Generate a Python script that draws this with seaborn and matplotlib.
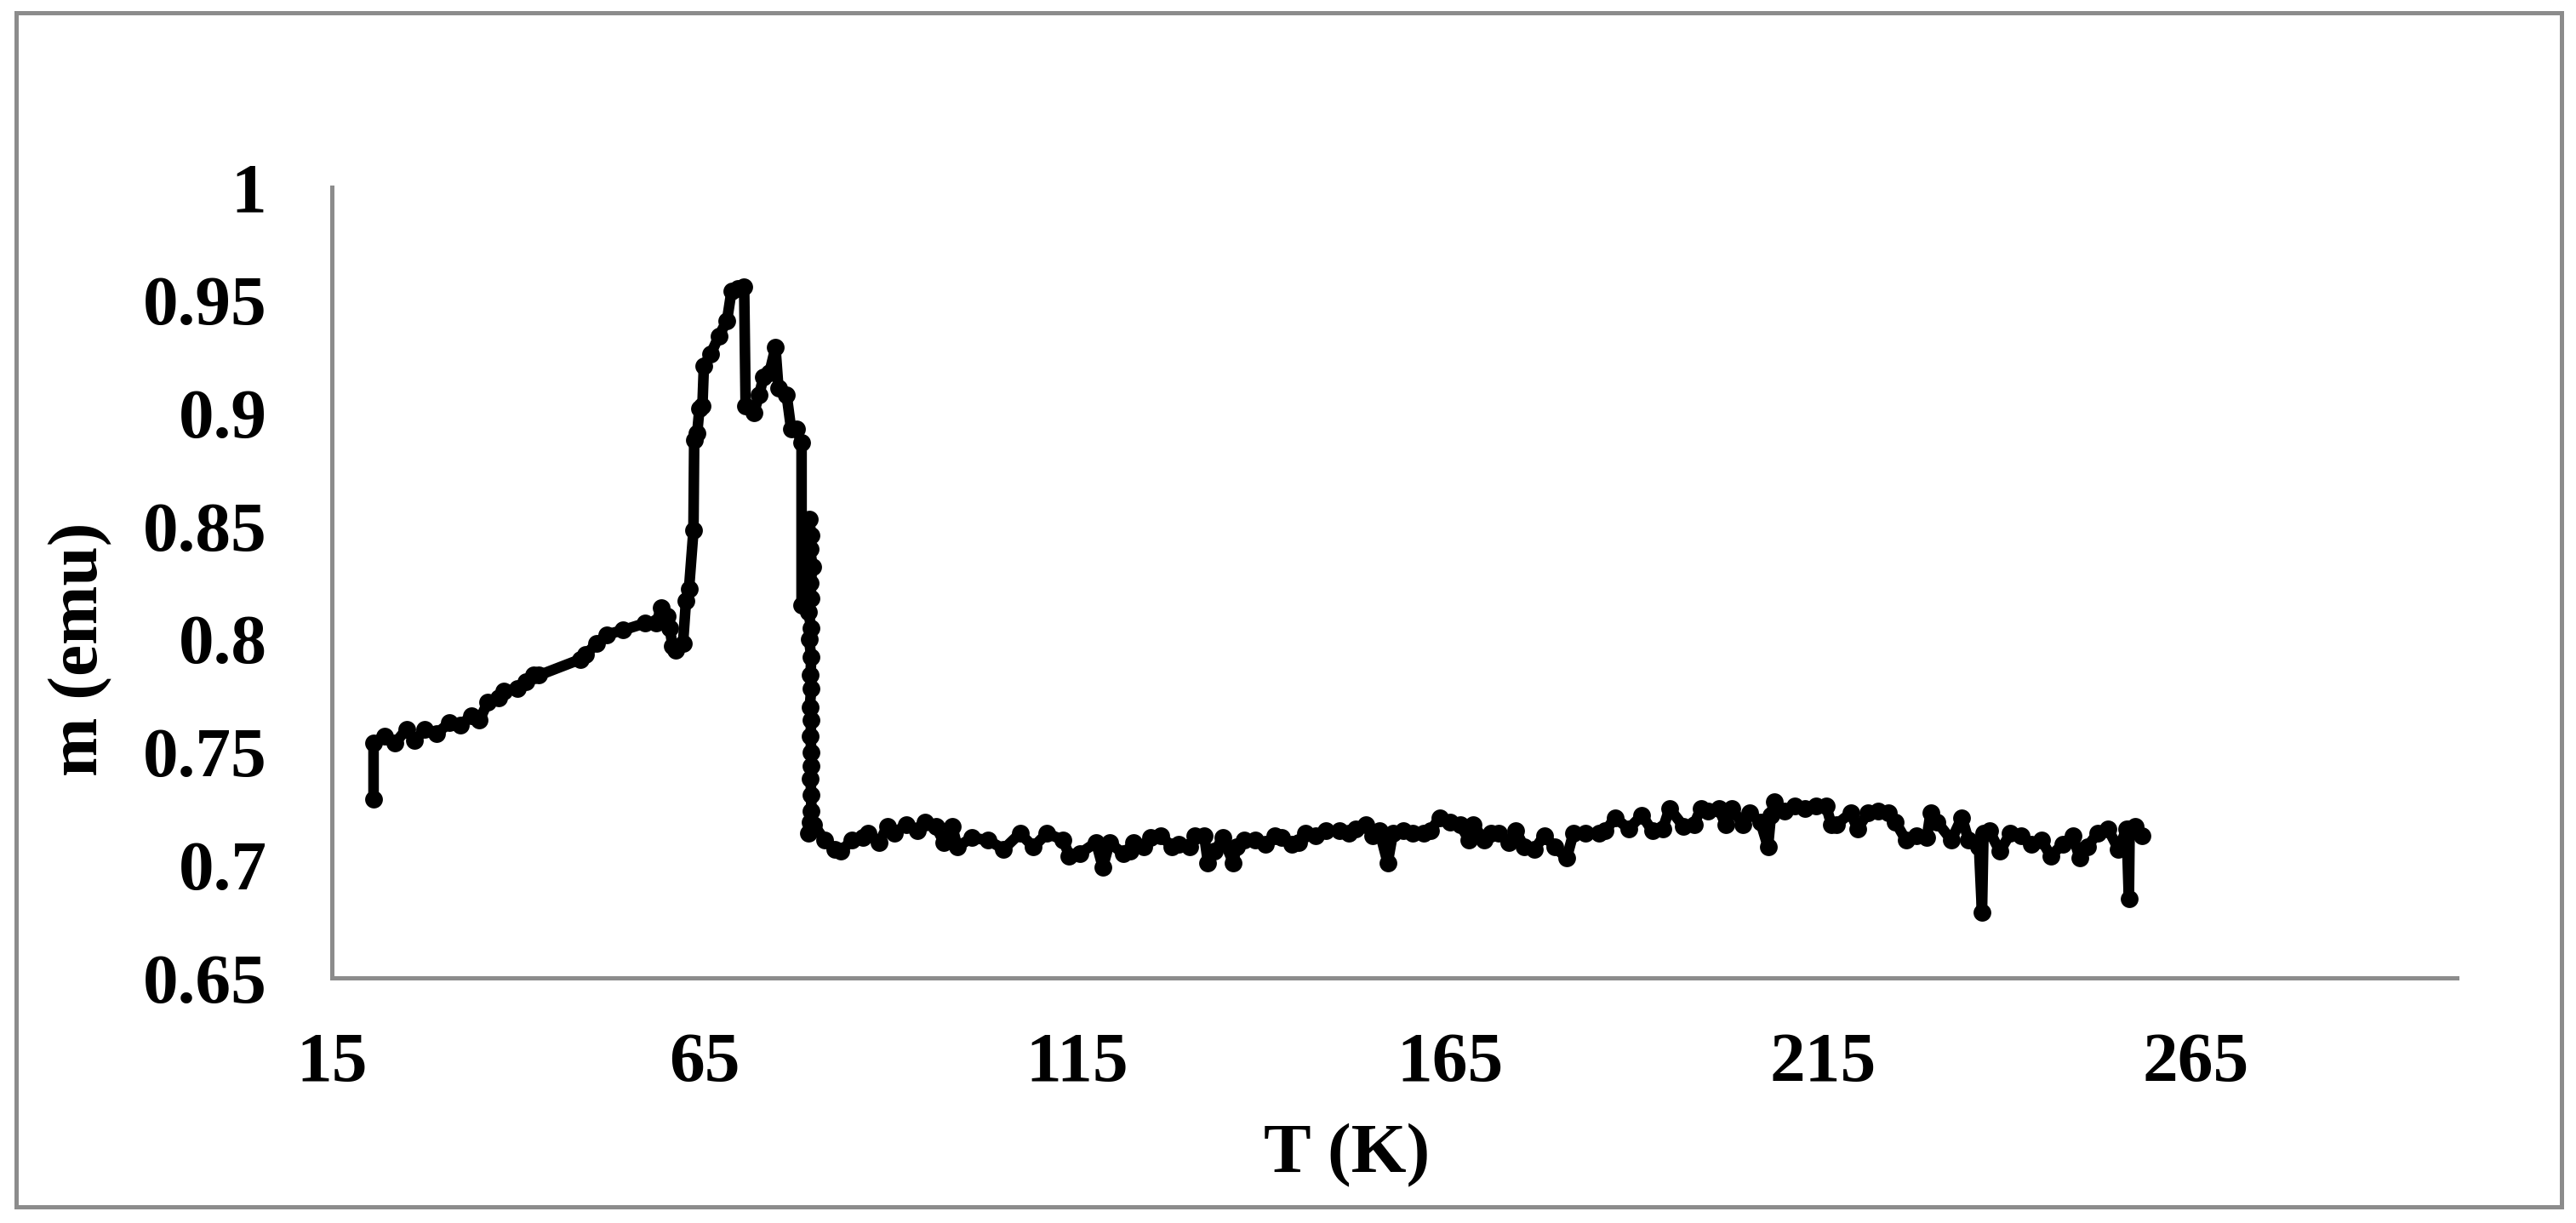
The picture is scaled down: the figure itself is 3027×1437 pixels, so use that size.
import numpy as np
import pandas as pd
import matplotlib.pyplot as plt
import seaborn as sns
from matplotlib.patches import Rectangle

# ── data (T in K, m in emu) ──────────────────────────────────────────────────
# low-temperature rise
t_rise = [20.6, 20.6, 22.1, 23.5, 25.0, 26.1, 27.5, 29.0, 30.8, 32.3, 33.7, 34.8,
          35.9, 37.4, 38.1, 39.9, 41.0, 42.1, 42.8, 48.3, 49.0, 50.5, 51.9, 54.1,
          57.0, 58.5, 59.2, 60.0, 60.3, 60.7, 61.1, 62.1]
m_rise = [0.729, 0.754, 0.757, 0.754, 0.760, 0.755, 0.760, 0.758, 0.763, 0.762, 0.766, 0.764,
          0.772, 0.774, 0.777, 0.778, 0.781, 0.784, 0.784, 0.791, 0.793, 0.798, 0.802, 0.804,
          0.807, 0.807, 0.814, 0.810, 0.805, 0.797, 0.795, 0.798]

# double peak
t_peak = [62.5, 62.9, 63.5, 63.6, 64.0, 64.3, 64.7, 64.9, 65.8, 66.9, 68.0, 68.6, 69.4,
          70.3, 70.5, 71.6, 72.3, 72.9, 73.7, 74.5, 74.9, 76.0, 76.6, 77.3, 78.0]
m_peak = [0.817, 0.822, 0.848, 0.888, 0.891, 0.902, 0.903, 0.921, 0.926, 0.934, 0.941, 0.954, 0.955,
          0.956, 0.903, 0.900, 0.908, 0.916, 0.918, 0.929, 0.911, 0.908, 0.893, 0.893, 0.887]

# sharp drop near 79 K
t_drop = [78.0, 79.0, 79.3, 79.1, 79.5, 79.2, 79.3, 78.9, 79.3, 79.0, 79.3, 79.2,
          79.3, 79.1, 79.3, 79.2, 79.3, 79.3, 79.2, 79.3, 79.3, 79.1, 78.9]
m_drop = [0.815, 0.853, 0.846, 0.840, 0.832, 0.825, 0.818, 0.812, 0.805, 0.800, 0.792, 0.784,
          0.778, 0.770, 0.764, 0.757, 0.750, 0.744, 0.738, 0.731, 0.724, 0.719, 0.714]

# noisy plateau up to ~258 K
t_flat = [79.6, 81.1, 82.5, 83.3, 84.7, 86.2, 86.9, 88.4, 89.5, 90.5,
          92.0, 93.5, 94.6, 96.0, 97.1, 98.2, 98.9, 100.8, 103.0, 105.1,
          107.3, 109.1, 110.9, 113.1, 113.9, 115.3, 117.5, 118.4, 119.3, 121.1,
          122.1, 122.5, 123.9, 124.8, 126.2, 127.7, 128.6, 130.0, 130.7, 132.0,
          132.5, 133.4, 134.5, 135.9, 136.3, 137.4, 138.8, 140.2, 141.5, 142.4,
          143.8, 144.7, 145.6, 146.9, 148.3, 150.1, 151.4, 152.3, 153.7, 154.6,
          155.5, 156.6, 157.3, 158.7, 160.0, 161.4, 162.3, 163.6, 165.0, 166.3,
          167.5, 168.1, 169.5, 170.4, 171.5, 172.9, 173.8, 174.9, 176.3, 177.6,
          179.0, 180.6, 181.5, 183.1, 184.9, 185.8, 187.1, 188.9, 190.7, 192.1,
          193.5, 194.4, 196.3, 197.7, 198.6, 199.6, 201.0, 201.9, 202.8, 204.2,
          205.2, 206.6, 207.6, 208.0, 208.4, 209.8, 211.2, 212.6, 214.0, 215.4,
          216.1, 216.8, 218.7, 219.6, 221.0, 222.4, 223.8, 224.7, 226.1, 227.5,
          228.9, 229.4, 230.3, 232.2, 233.6, 234.5, 235.9, 236.3, 236.5, 237.3,
          238.7, 240.1, 241.5, 242.9, 244.3, 245.5, 247.1, 248.5, 249.4, 250.4,
          251.8, 253.2, 254.6, 255.7, 256.0, 256.1, 256.9, 257.8]
m_flat = [0.718, 0.711, 0.707, 0.706, 0.711, 0.712, 0.714, 0.710, 0.717, 0.714,
          0.718, 0.715, 0.719, 0.717, 0.710, 0.717, 0.708, 0.712, 0.711, 0.707,
          0.714, 0.708, 0.714, 0.711, 0.704, 0.705, 0.710, 0.699, 0.710, 0.705,
          0.706, 0.710, 0.708, 0.712, 0.713, 0.708, 0.709, 0.708, 0.713, 0.713,
          0.701, 0.706, 0.712, 0.701, 0.708, 0.711, 0.711, 0.709, 0.713, 0.712,
          0.709, 0.710, 0.714, 0.713, 0.715, 0.715, 0.714, 0.716, 0.718, 0.713,
          0.715, 0.701, 0.714, 0.715, 0.714, 0.714, 0.715, 0.721, 0.719, 0.718,
          0.711, 0.718, 0.711, 0.714, 0.714, 0.710, 0.715, 0.708, 0.707, 0.713,
          0.708, 0.703, 0.714, 0.714, 0.714, 0.715, 0.721, 0.716, 0.722, 0.715,
          0.716, 0.725, 0.717, 0.718, 0.725, 0.724, 0.725, 0.718, 0.725, 0.718,
          0.723, 0.719, 0.708, 0.722, 0.728, 0.724, 0.726, 0.725, 0.726, 0.726,
          0.718, 0.718, 0.723, 0.716, 0.723, 0.724, 0.723, 0.719, 0.711, 0.713,
          0.712, 0.723, 0.719, 0.711, 0.721, 0.711, 0.708, 0.679, 0.714, 0.715,
          0.706, 0.714, 0.713, 0.709, 0.711, 0.704, 0.709, 0.713, 0.703, 0.708,
          0.714, 0.716, 0.707, 0.716, 0.685, 0.716, 0.717, 0.713]

x_ticks = [15, 65, 115, 165, 215, 265]
y_ticks = [0.65, 0.70, 0.75, 0.80, 0.85, 0.90, 0.95, 1.00]
y_tick_labels = ["0.65", "0.7", "0.75", "0.8", "0.85", "0.9", "0.95", "1"]

df = pd.DataFrame({
    "T": t_rise + t_peak + t_drop + t_flat,
    "m": m_rise + m_peak + m_drop + m_flat,
})

# ── style ─────────────────────────────────────────────────────────────────────
sns.set_style("white")
plt.rcParams["font.family"] = ["Liberation Serif", "DejaVu Serif"]
plt.rcParams["font.weight"] = "bold"
plt.rcParams["text.color"] = "black"
plt.rcParams["xtick.color"] = "black"
plt.rcParams["ytick.color"] = "black"
grey = "#8c8c8c"

fig = plt.figure(figsize=(30.27, 14.37), dpi=100)
ax = fig.add_axes([0.1288, 0.2004, 0.825, 0.6465])

sns.lineplot(data=df, x="T", y="m", sort=False, estimator=None, ax=ax,
             color="black", linewidth=9, marker="o", markersize=15,
             markeredgecolor="black", markeredgewidth=0)

ax.set_xlim(15, 300)
ax.set_ylim(0.65, 1.0)
ax.set_xticks(x_ticks)
ax.set_yticks(y_ticks)
ax.set_yticklabels(y_tick_labels)
ax.tick_params(axis="both", length=0, labelsize=60, labelcolor="black")
ax.tick_params(axis="x", pad=46)
ax.tick_params(axis="y", pad=55)
ax.set_xlabel("")
ax.set_ylabel("")
ax.grid(False)

for side in ["top", "right"]:
    ax.spines[side].set_visible(False)
for side in ["left", "bottom"]:
    ax.spines[side].set_color(grey)
    ax.spines[side].set_linewidth(3.6)

fig.text(0.523, 0.055, "T (K)", ha="center", va="center", fontsize=60,
         fontweight="bold", color="black")
fig.text(0.0314, 0.469, "m (emu)", ha="center", va="center", rotation=90,
         fontsize=60, fontweight="bold", color="black")

# chart-area border
fig.patches.append(Rectangle((0.0063, 0.0132), 0.988, 0.9763, transform=fig.transFigure,
                             fill=False, edgecolor=grey, linewidth=3.6))

fig.savefig("out.png", dpi=100, facecolor="white")
